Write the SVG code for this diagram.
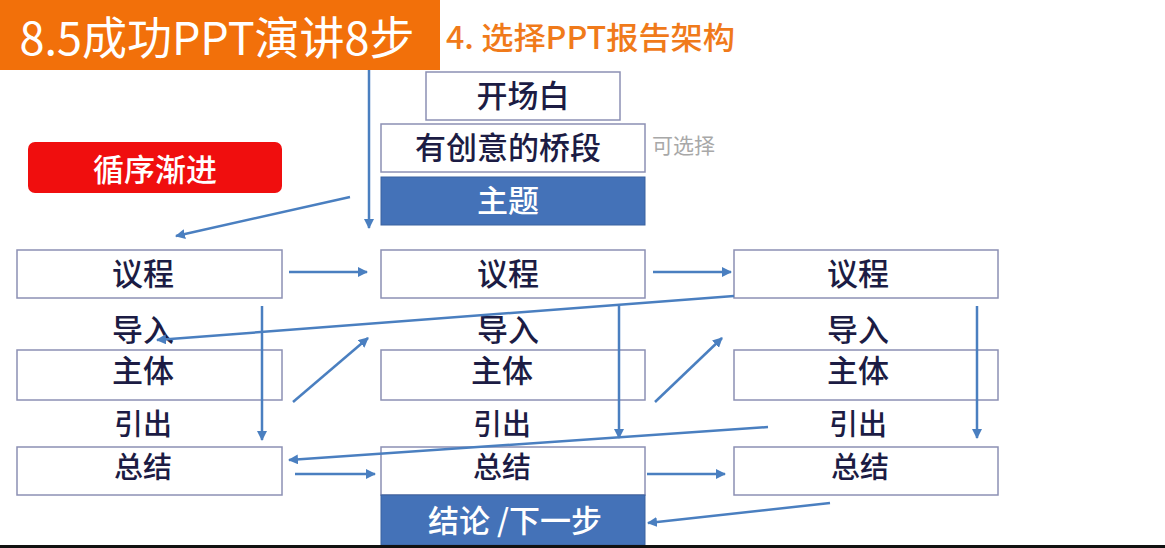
<svg xmlns="http://www.w3.org/2000/svg" width="1165" height="548" viewBox="0 0 1165 548">
<style>
.box{fill:#fff;stroke:#8c90b4;stroke-width:1.5}
.blue{fill:#4472B8;stroke:#3a62a0;stroke-width:1}
.t{font-family:"Noto Sans CJK SC","Noto Sans",sans-serif;font-size:31px;font-weight:500;fill:#1c1c44;text-anchor:middle}
.s{font-size:29px}
.w{fill:#fff}
.c{stroke:#4a7fc0;stroke-width:2.5;fill:none;marker-end:url(#ah)}
</style>
<defs>
<marker id="ah" viewBox="0 0 10 10" refX="9" refY="5" markerWidth="4" markerHeight="4" orient="auto"><path d="M0,0 L10,5 L0,10 Z" fill="#4a7fc0"/></marker>
</defs>
<rect width="1165" height="548" fill="#fff"/>
<g id="title">
<rect x="0" y="0" width="440" height="70" fill="#F2700A"/>
<text x="217" y="55" font-family="'Noto Sans CJK SC','Noto Sans',sans-serif" font-size="45" fill="#fff" text-anchor="middle">8.5成功PPT演讲8步</text>
<text x="446" y="49" font-family="'Noto Sans CJK SC','Noto Sans',sans-serif" font-size="31" font-weight="500" fill="#F07A1A" textLength="289" lengthAdjust="spacingAndGlyphs">4. 选择PPT报告架构</text>
</g>
<g id="n-opening"><rect class="box" x="426" y="72" width="194" height="48"/><text class="t" x="523" y="107">开场白</text></g>
<g id="n-bridge"><rect class="box" x="381" y="124" width="264" height="48"/><text class="t" x="508" y="159">有创意的桥段</text></g>
<g id="n-optional"><text x="652" y="153" font-family="'Noto Sans CJK SC',sans-serif" font-size="21" fill="#a8a8a8">可选择</text></g>
<g id="n-theme"><rect class="blue" x="381" y="177" width="264" height="48"/><text class="t w" x="508" y="212">主题</text></g>
<g id="n-progressive"><rect x="28" y="142" width="254" height="51" rx="7" fill="#F00E0E"/><text class="t w" x="155" y="181" font-size="37" font-weight="400">循序渐进</text></g>
<g id="col1">
<rect class="box" x="17" y="250" width="265" height="48"/><text class="t" x="143" y="285">议程</text>
<text class="t" x="143" y="341">导入</text>
<rect class="box" x="17" y="350" width="265" height="50"/><text class="t" x="143" y="382">主体</text>
<text class="t s" x="143" y="435">引出</text>
<rect class="box" x="17" y="447" width="265" height="48"/><text class="t s" x="143" y="478">总结</text>
</g>
<g id="col2">
<rect class="box" x="381" y="250" width="264" height="48"/><text class="t" x="508" y="285">议程</text>
<text class="t" x="508" y="341">导入</text>
<rect class="box" x="381" y="350" width="264" height="50"/><text class="t" x="502" y="382">主体</text>
<text class="t s" x="502" y="435">引出</text>
<rect class="box" x="381" y="447" width="264" height="48"/><text class="t s" x="502" y="478">总结</text>
</g>
<g id="col3">
<rect class="box" x="734" y="250" width="264" height="48"/><text class="t" x="858" y="285">议程</text>
<text class="t" x="858" y="341">导入</text>
<rect class="box" x="734" y="350" width="264" height="50"/><text class="t" x="858" y="382">主体</text>
<text class="t s" x="858" y="435">引出</text>
<rect class="box" x="734" y="447" width="264" height="48"/><text class="t s" x="860" y="478">总结</text>
</g>
<g id="n-conclusion"><rect class="blue" x="381" y="495" width="264" height="50"/><text class="t w" x="515" y="532">结论 /下一步</text></g>
<g id="connectors">
<path class="c" d="M369,70 L369,228"/>
<path class="c" d="M350,197 L176,236"/>
<path class="c" d="M289,272 L367,272"/>
<path class="c" d="M653,272 L731,272"/>
<path class="c" d="M262,306 L262,440"/>
<path class="c" d="M734,296 L157,340"/>
<path class="c" d="M293,402 L368,338"/>
<path class="c" d="M619,306 L619,438"/>
<path class="c" d="M655,402 L722,338"/>
<path class="c" d="M977,306 L977,438"/>
<path class="c" d="M768,427 L289,460"/>
<path class="c" d="M295,474 L375,474"/>
<path class="c" d="M647,474 L725,474"/>
<path class="c" d="M830,503 L648,523"/>
</g>
<rect x="0" y="545" width="1165" height="3" fill="#111"/>
</svg>
